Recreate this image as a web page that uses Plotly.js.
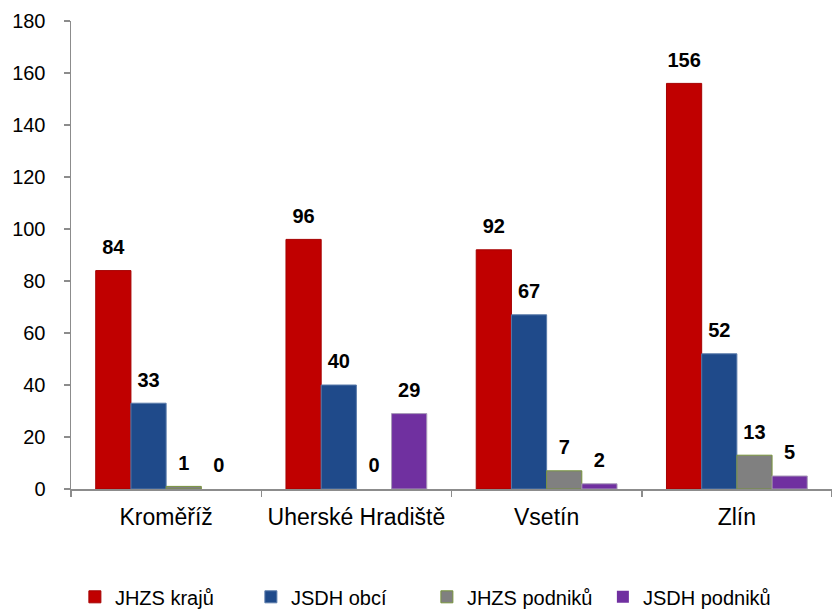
<!DOCTYPE html>
<html>
<head>
<meta charset="utf-8">
<script src="https://cdn.plot.ly/plotly-3.0.1.min.js"></script>
<style>html,body{margin:0;padding:0;background:#fff;}#chart{width:832px;height:609px;}</style>
</head>
<body>
<div id="chart"></div>
<script>
var categories = ["Kroměříž", "Uherské Hradiště", "Vsetín", "Zlín"];
var seriesNames = ["JHZS krajů", "JSDH obcí", "JHZS podniků", "JSDH podniků"];
var jhzsKraju = [84, 96, 92, 156];
var jsdhObci = [33, 40, 67, 52];
var jhzsPodniku = [1, 0, 7, 13];
var jsdhPodniku = [0, 29, 2, 5];
var yTicks = [0, 20, 40, 60, 80, 100, 120, 140, 160, 180];

var seriesValues = [jhzsKraju, jsdhObci, jhzsPodniku, jsdhPodniku];
var fills = ["#C00000", "#1F4A8A", "#808080", "#7030A0"];
var borders = ["#A50000", "#5A7BAA", "#77933C", "#A89BB8"];
var FONT = "Liberation Sans, Arial, sans-serif";

var traces = [];
seriesValues.forEach(function (vals, i) {
  traces.push({
    type: "bar",
    name: seriesNames[i],
    x: categories,
    y: vals,
    marker: {
      color: fills[i],
      line: { color: borders[i], width: vals.map(function (v) { return v === 0 ? 0 : 1; }) }
    },
    hoverinfo: "skip"
  });
});
seriesValues.forEach(function (vals, i) {
  traces.push({
    type: "scatter",
    mode: "markers+text",
    x: categories,
    y: vals,
    text: vals.map(String),
    texttemplate: "<b>%{text}</b>",
    textposition: "top center",
    textfont: { family: FONT, size: 20, color: "#000" },
    marker: { size: 17, opacity: 0, color: "rgba(0,0,0,0)" },
    showlegend: false,
    cliponaxis: false,
    hoverinfo: "skip"
  });
});

var layout = {
  width: 832,
  height: 609,
  margin: { l: 71, r: 0, t: 21, b: 120 },
  paper_bgcolor: "#fff",
  plot_bgcolor: "#fff",
  barmode: "group",
  bargap: 0.26,
  bargroupgap: 0,
  scattermode: "group",
  scattergap: 0.26,
  font: { family: FONT, color: "#000" },
  showlegend: true,
  legend: {
    orientation: "h",
    xref: "container",
    yref: "container",
    x: 0.09,
    xanchor: "left",
    y: 0.02,
    yanchor: "middle",
    entrywidth: 131,
    entrywidthmode: "pixels",
    font: { family: FONT, size: 20, color: "#000" },
    traceorder: "normal"
  },
  xaxis: {
    type: "category",
    range: [-0.5, 3.5],
    showline: true,
    linecolor: "#8C8C8C",
    linewidth: 1.5,
    ticks: "outside",
    tickson: "boundaries",
    ticklen: 6,
    tickcolor: "#8C8C8C",
    tickwidth: 1.5,
    showgrid: false,
    zeroline: false,
    ticklabelstandoff: 7,
    tickfont: { family: FONT, size: 23, color: "#000" }
  },
  yaxis: {
    range: [0, 180],
    tickvals: yTicks,
    ticktext: yTicks.map(String),
    showline: true,
    linecolor: "#8C8C8C",
    linewidth: 1.5,
    ticks: "outside",
    ticklen: 6,
    tickcolor: "#8C8C8C",
    tickwidth: 1.5,
    showgrid: false,
    zeroline: false,
    ticklabelstandoff: 14,
    tickfont: { family: FONT, size: 20, color: "#000" }
  }
};

Plotly.newPlot("chart", traces, layout, { staticPlot: true, displayModeBar: false });
</script>
</body>
</html>
